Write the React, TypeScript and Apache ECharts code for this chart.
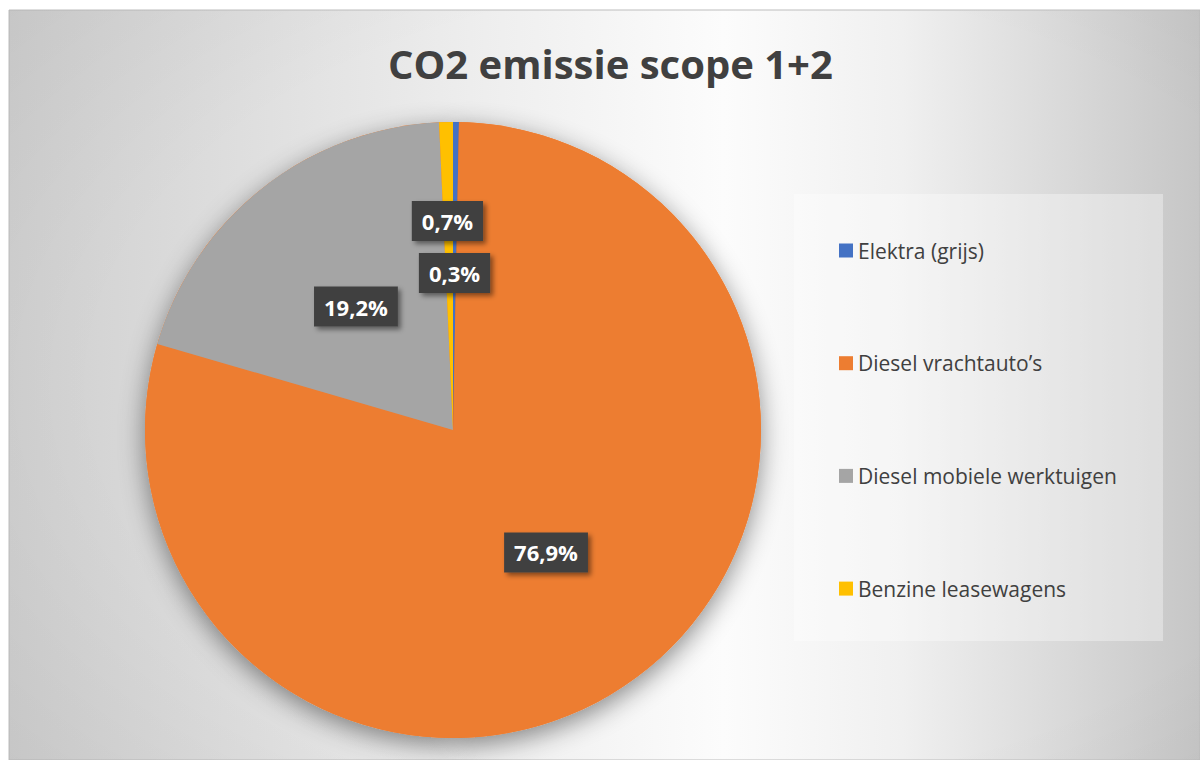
import React, { useEffect, useRef } from "react";
import * as echarts from "echarts";

const TITLE = "CO2 emissie scope 1+2";
const CATEGORIES = [
  "Elektra (grijs)",
  "Diesel vrachtauto’s",
  "Diesel mobiele werktuigen",
  "Benzine leasewagens",
];
const VALUES = [0.3, 76.9, 19.2, 0.7];
const COLORS = ["#4472c4", "#ed7d31", "#a5a5a5", "#ffc000"];
// label nudges (Excel "best fit" placement)
const LABEL_SHIFT: [number, number][] = [
  [0, 0],
  [0, -4],
  [0, 0],
  [-2, -52],
];

const FONT = "'Open Sans', 'Noto Sans', sans-serif";

export default function App() {
  const ref = useRef<HTMLDivElement>(null);
  useEffect(() => {
    document.body.style.margin = "0";
    if (!ref.current) return;
    const chart = echarts.init(ref.current, undefined, { renderer: "svg" });
    const option: any = {
      animation: false,
      backgroundColor: "#ffffff",
      graphic: [
        {
          type: "rect",
          z: -20,
          silent: true,
          shape: { x: 9, y: 10, width: 1191, height: 750 },
          style: {
            fill: new echarts.graphic.LinearGradient(0, 0, 1, 0, [
              { offset: 0, color: "#cfcfcf" },
              { offset: 0.4, color: "#eeeeee" },
              { offset: 0.6, color: "#fcfcfc" },
              { offset: 0.75, color: "#f0f0f0" },
              { offset: 1, color: "#c6c6c6" },
            ]),
            stroke: "#bdbdbd",
            lineWidth: 1,
          },
        },
        {
          type: "rect",
          z: -19,
          silent: true,
          shape: { x: 9, y: 10, width: 1191, height: 750 },
          style: {
            fill: new echarts.graphic.RadialGradient(0.6, 0.5, 0.95, [
              { offset: 0, color: "rgba(0,0,0,0)" },
              { offset: 0.55, color: "rgba(0,0,0,0)" },
              { offset: 1, color: "rgba(0,0,0,0.07)" },
            ]),
          },
        },
        {
          type: "rect",
          z: -18,
          silent: true,
          shape: { x: 794, y: 194, width: 369, height: 447 },
          style: { fill: "rgba(255,255,255,0.35)" },
        },
      ],
      title: {
        text: TITLE,
        left: 388,
        top: 38,
        padding: 0,
        textStyle: {
          fontFamily: FONT,
          fontSize: 40,
          fontWeight: "bold",
          color: "#404040",
          lineHeight: 50,
        },
      },
      legend: {
        data: CATEGORIES,
        orient: "vertical",
        left: 839,
        top: 240,
        padding: 0,
        itemWidth: 14,
        itemHeight: 14,
        itemGap: 91.7,
        icon: "rect",
        selectedMode: false,
        textStyle: {
          fontFamily: FONT,
          fontSize: 21,
          lineHeight: 20,
          color: "#404040",
        },
      },
      series: [
        {
          // soft drop shadow behind the pie (decorative)
          type: "pie",
          silent: true,
          z: 1,
          center: [453, 430],
          radius: 308,
          startAngle: 90,
          data: [
            { name: "_shadowA", value: 1 },
            { name: "_shadowB", value: 1 },
          ],
          label: { show: false },
          labelLine: { show: false },
          emphasis: { disabled: true },
          itemStyle: {
            color: "#ed7d31",
            borderWidth: 0,
            shadowBlur: 26,
            shadowColor: "rgba(0,0,0,0.45)",
            shadowOffsetX: 0,
            shadowOffsetY: 7,
          },
        },
        {
          type: "pie",
          z: 2,
          center: [453, 430],
          radius: 308,
          startAngle: 90,
          clockwise: true,
          avoidLabelOverlap: false,
          data: CATEGORIES.map((name, i) => ({
            name,
            value: VALUES[i],
            itemStyle: { color: COLORS[i] },
          })),
          itemStyle: { borderWidth: 0 },
          labelLine: { show: false },
          label: {
            show: true,
            position: "inside",
            formatter: (p: any) => `${Number(p.value).toFixed(1).replace(".", ",")}%`,
            fontFamily: FONT,
            fontSize: 22,
            fontWeight: "bold",
            color: "#ffffff",
            lineHeight: 24,
            backgroundColor: "#404040",
            padding: [8, 10],
            shadowColor: "rgba(0,0,0,0.45)",
            shadowBlur: 5,
            shadowOffsetX: 3,
            shadowOffsetY: 3,
          },
          labelLayout: (params: any) => {
            const s = LABEL_SHIFT[params.dataIndex] || [0, 0];
            return { dx: s[0], dy: s[1] };
          },
        },
      ],
    };
    chart.setOption(option);
    return () => chart.dispose();
  }, []);
  return <div ref={ref} style={{ width: 1200, height: 760 }} />;
}
